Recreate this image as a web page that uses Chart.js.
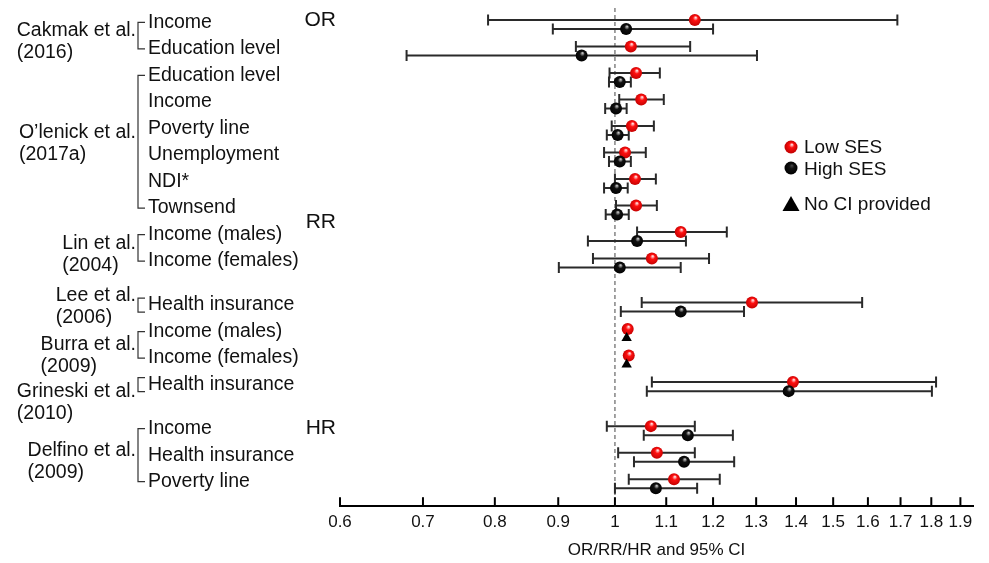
<!DOCTYPE html>
<html>
<head>
<meta charset="utf-8">
<script src="https://cdn.jsdelivr.net/npm/chart.js@4.4.0/dist/chart.umd.min.js"></script>
<style>
  html, body { margin: 0; padding: 0; background: #fff; }
</style>
</head>
<body>
<canvas id="myChart" width="989" height="563"></canvas>
<script>
// rows, top to bottom
const rowLabels = ['Income', 'Education level', 'Education level', 'Income', 'Poverty line', 'Unemployment',
  'NDI*', 'Townsend', 'Income (males)', 'Income (females)', 'Health insurance', 'Income (males)',
  'Income (females)', 'Health insurance', 'Income', 'Health insurance', 'Poverty line'];
const rowStudy = [0, 0, 1, 1, 1, 1, 1, 1, 2, 2, 3, 4, 4, 5, 6, 6, 6];
const studyNames = [['Cakmak et al.', '(2016)'], ['O\u2019lenick et al.', '(2017a)'], ['Lin et al.', '(2004)'],
  ['Lee et al.', '(2006)'], ['Burra et al.', '(2009)'], ['Grineski et al.', '(2010)'], ['Delfino et al.', '(2009)']];

// low SES (red)
const lowEst = [1.16, 1.03, 1.04, 1.05, 1.032, 1.019, 1.038, 1.04, 1.13, 1.071, 1.29, 1.024, 1.026, 1.392, 1.069, 1.081, 1.116];
const lowLo  = [0.79, 0.93, 0.99, 1.008, 0.994, 0.98, 1.0, 1.002, 1.042, 0.96, 1.051, null, null, 1.071, 0.985, 1.006, 1.026];
const lowHi  = [1.69, 1.15, 1.087, 1.095, 1.075, 1.059, 1.079, 1.081, 1.231, 1.191, 1.583, null, null, 1.816, 1.16, 1.16, 1.215];
// high SES (black)
const highEst = [1.021, 0.94, 1.009, 1.002, 1.005, 1.009, 1.002, 1.004, 1.042, 1.009, 1.13, 1.022, 1.022, 1.381, 1.145, 1.137, 1.079];
const highLo  = [0.891, 0.679, 0.989, 0.982, 0.985, 0.989, 0.98, 0.983, 0.951, 0.901, 1.011, null, null, 1.061, 1.055, 1.036, 1.0];
const highHi  = [1.2, 1.302, 1.03, 1.022, 1.026, 1.03, 1.024, 1.026, 1.141, 1.13, 1.271, null, null, 1.802, 1.245, 1.248, 1.165];

const xTicks = [0.6, 0.7, 0.8, 0.9, 1, 1.1, 1.2, 1.3, 1.4, 1.5, 1.6, 1.7, 1.8, 1.9];
const sectionLabels = ['OR', 'RR', 'HR'];
const legendLabels = ['Low SES', 'High SES', 'No CI provided'];

// layout
const FONT = '"Liberation Sans", Arial, Helvetica, sans-serif';
const gapBefore = [10, 14];   // extra space before Lee and Delfino
const rowGap = 0.66;
const highShift = 0.34;
const sectionAt = [0, 7.62, 15.4];
const studyNudge = [0, -4, 1, -4.5, 5, 12.5, 0];

const rowPos = rowLabels.map((_, i) => i + rowGap * gapBefore.filter(g => i >= g).length);

function points(est, lo, hi, shift) {
  return est.map((v, i) => ({x: v, y: rowPos[i] + shift, lo: lo[i], hi: hi[i]}));
}

function ballFill(c, x, y, base, light, dark) {
  const g = c.createRadialGradient(x + 1, y - 2.5, 0.3, x, y, 6.5);
  g.addColorStop(0, light);
  g.addColorStop(0.35, base);
  g.addColorStop(1, dark);
  return g;
}

function ball(base, light, dark) {
  return ctx => {
    const ch = ctx.chart;
    if (ctx.type !== 'data' || !ctx.parsed || !ch.scales.x || !ch.chartArea) return base;
    const x = ch.scales.x.getPixelForValue(ctx.parsed.x);
    const y = ch.scales.y.getPixelForValue(ctx.parsed.y);
    if (!Number.isFinite(x) || !Number.isFinite(y)) return base;
    return ballFill(ch.ctx, x, y, base, light, dark);
  };
}
const redBall = ball('#ff1010', '#ffe6e6', '#c00000');
const blackBall = ball('#111', '#c8c8c8', '#000');
const noCI = ctx => ctx.raw && ctx.raw.lo == null;

const forestPlugin = {
  id: 'forest',
  beforeDatasetsDraw(chart) {
    const {ctx, chartArea, scales: {x}} = chart;
    ctx.save();
    const x1 = x.getPixelForValue(1);
    ctx.strokeStyle = '#707070';
    ctx.lineWidth = 1.3;
    ctx.setLineDash([4, 3]);
    ctx.beginPath();
    ctx.moveTo(x1, chartArea.top);
    ctx.lineTo(x1, chartArea.bottom);
    ctx.stroke();
    ctx.setLineDash([]);

    ctx.strokeStyle = '#2a2a2a';
    ctx.lineWidth = 2;
    chart.data.datasets.forEach((ds, i) => {
      chart.getDatasetMeta(i).data.forEach((pt, j) => {
        const d = ds.data[j];
        if (d.lo == null) return;
        const a = x.getPixelForValue(d.lo), b = x.getPixelForValue(d.hi);
        ctx.beginPath();
        ctx.moveTo(a, pt.y); ctx.lineTo(b, pt.y);
        ctx.moveTo(a, pt.y - 5.5); ctx.lineTo(a, pt.y + 5.5);
        ctx.moveTo(b, pt.y - 5.5); ctx.lineTo(b, pt.y + 5.5);
        ctx.stroke();
      });
    });
    ctx.restore();
  },
  afterDraw(chart) {
    const {ctx, chartArea, scales: {x, y}} = chart;
    ctx.save();
    // tick marks pointing up
    ctx.strokeStyle = '#000';
    ctx.lineWidth = 2;
    x.ticks.forEach(t => {
      const px = x.getPixelForValue(t.value);
      ctx.beginPath();
      ctx.moveTo(px, chartArea.bottom);
      ctx.lineTo(px, chartArea.bottom - 9);
      ctx.stroke();
    });

    ctx.fillStyle = '#111';
    ctx.textBaseline = 'middle';
    ctx.font = '19.5px ' + FONT;
    // row labels
    const labY = i => y.getPixelForValue(rowPos[i]) + 2.5;
    rowLabels.forEach((l, i) => ctx.fillText(l, 148, labY(i)));

    // brackets and study names
    ctx.strokeStyle = '#333';
    ctx.lineWidth = 1.2;
    studyNames.forEach((nm, s) => {
      const rows = rowStudy.map((v, i) => v === s ? i : -1).filter(i => i >= 0);
      let top = labY(rows[0]), bot = labY(rows[rows.length - 1]);
      if (rows.length === 1) { top -= 7; bot += 7; }
      ctx.beginPath();
      ctx.moveTo(145, top); ctx.lineTo(138, top); ctx.lineTo(138, bot); ctx.lineTo(145, bot);
      ctx.stroke();
      const mid = (top + bot) / 2 - 5 + studyNudge[s];
      const w = ctx.measureText(nm[0]).width;
      ctx.fillText(nm[0], 136 - w, mid);
      ctx.fillText(nm[1], 136 - w, mid + 22);
    });

    // section labels
    ctx.font = '21px ' + FONT;
    ctx.textAlign = 'right';
    sectionLabels.forEach((s, i) => ctx.fillText(s, 336, y.getPixelForValue(sectionAt[i])));
    ctx.textAlign = 'left';

    // legend
    ctx.font = '19px ' + FONT;
    const lx = 791;
    ctx.fillStyle = ballFill(ctx, lx, 147, '#ff1010', '#ffe6e6', '#c00000');
    ctx.beginPath(); ctx.arc(lx, 147, 6.5, 0, Math.PI * 2); ctx.fill();
    ctx.fillStyle = ballFill(ctx, lx, 168, '#111', '#444', '#000');
    ctx.beginPath(); ctx.arc(lx, 168, 6.5, 0, Math.PI * 2); ctx.fill();
    ctx.fillStyle = '#000';
    ctx.beginPath(); ctx.moveTo(lx, 196); ctx.lineTo(lx + 8.5, 211); ctx.lineTo(lx - 8.5, 211); ctx.closePath(); ctx.fill();
    ctx.fillStyle = '#111';
    ctx.fillText(legendLabels[0], 804, 148);
    ctx.fillText(legendLabels[1], 804, 170);
    ctx.fillText(legendLabels[2], 804, 205);
    ctx.restore();
  }
};

new Chart(document.getElementById('myChart').getContext('2d'), {
  type: 'scatter',
  data: {
    datasets: [
      {
        label: legendLabels[1],
        data: points(highEst, highLo, highHi, highShift),
        pointStyle: ctx => noCI(ctx) ? 'triangle' : 'circle',
        backgroundColor: ctx => noCI(ctx) ? '#000' : blackBall(ctx),
        pointRadius: 6,
        borderWidth: 0
      },
      {
        label: legendLabels[0],
        data: points(lowEst, lowLo, lowHi, 0),
        pointStyle: 'circle',
        backgroundColor: redBall,
        pointRadius: 6,
        borderWidth: 0
      }
    ]
  },
  plugins: [forestPlugin],
  options: {
    responsive: false,
    animation: false,
    events: [],
    layout: {padding: {left: 340, right: 16, top: 8, bottom: 2}},
    plugins: {legend: {display: false}, tooltip: {enabled: false}},
    scales: {
      x: {
        type: 'logarithmic',
        min: 0.6,
        max: 1.945,
        afterBuildTicks: s => { s.ticks = xTicks.map(v => ({value: v})); },
        ticks: {autoSkip: false, maxRotation: 0, padding: 6, color: '#111',
          font: {family: FONT, size: 17}, callback: v => String(v)},
        grid: {display: false, drawTicks: false},
        border: {display: true, color: '#000', width: 2},
        title: {display: true, text: 'OR/RR/HR and 95% CI', color: '#111',
          font: {family: FONT, size: 17}, padding: {top: 2, bottom: 0}}
      },
      y: {type: 'linear', reverse: true, min: -0.45, max: 18.34, display: false}
    }
  }
});
</script>
</body>
</html>
